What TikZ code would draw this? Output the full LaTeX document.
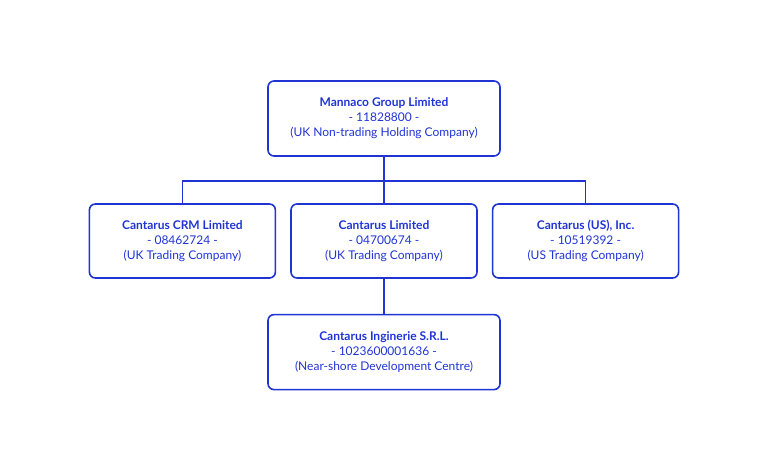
\documentclass[tikz,border=0pt]{standalone}
\usepackage{fontspec}
\setmainfont{Lato}
\usetikzlibrary{positioning}
\definecolor{cantblue}{RGB}{32,52,212}

\begin{document}
\begin{tikzpicture}[x=1pt,y=-1pt]
\tikzstyle{company}=[draw=cantblue,line width=1.6pt,rounded corners=6pt,
   minimum width=186pt,minimum height=74pt,align=center,text=cantblue,
   font=\fontsize{12}{15}\selectfont]
\tikzstyle{link}=[draw=cantblue,line width=1.6pt]
	\useasboundingbox (0,0) rectangle (768,469);
    \node[company,minimum width=232pt,minimum height=75pt] (mannaco) at (384,118.5)
    	{\textbf{Mannaco Group Limited}\\- 11828800 -\\(UK Non-trading Holding Company)};
    \node[company] (cantarus) at (384,241)
    	{\textbf{Cantarus Limited}\\- 04700674 -\\(UK Trading Company)};
    \node[company,left=14pt of cantarus] (crm)
    	{\textbf{Cantarus CRM Limited}\\- 08462724 -\\(UK Trading Company)};
    \node[company,right=14pt of cantarus] (us)
    	{\textbf{Cantarus (US), Inc.}\\- 10519392 -\\(US Trading Company)};
    \node[company,minimum width=232pt,minimum height=75pt,below=35pt of cantarus] (ingin)
    	{\textbf{Cantarus Inginerie S.R.L.}\\- 1023600001636 -\\(Near-shore Development Centre)};
	% connectors
    \draw[link] (mannaco.south) -- (cantarus.north);
    \draw[link] (crm.north) -- ++(0,-22) -| (us.north);
    \draw[link] (cantarus.south) -- (ingin.north);
\end{tikzpicture}
\end{document}
